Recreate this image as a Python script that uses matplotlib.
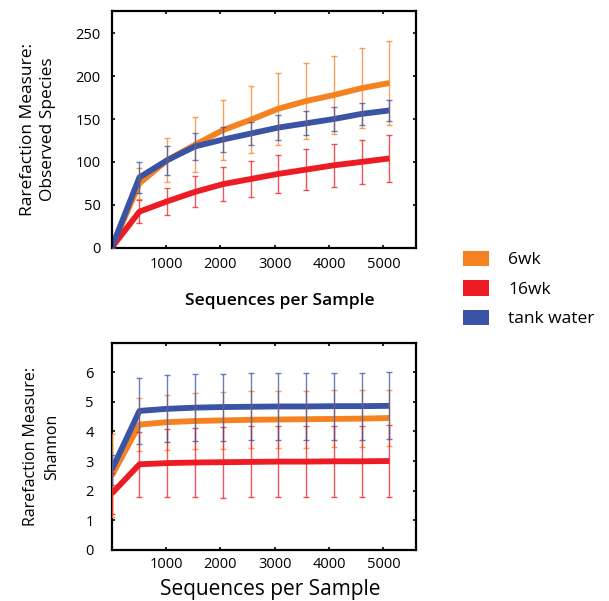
import matplotlib
matplotlib.use('Agg')
import matplotlib.pyplot as plt
from matplotlib.patches import Patch

plt.rcParams['font.family'] = ['Open Sans', 'DejaVu Sans']

# rarefaction depths
depth = [0, 511, 1022, 1533, 2044, 2555, 3066, 3577, 4088, 4599, 5110]

# observed species
obs_6wk = [0, 75, 102, 120, 137, 149, 162, 171, 178, 186, 192]
obs_6wk_err = [0, 18, 26, 32, 35, 39, 42, 44, 46, 47, 49]
obs_16wk = [0, 42, 54, 65, 74, 80, 86, 91, 96, 100, 104]
obs_16wk_err = [0, 13, 16, 18, 20, 21, 22, 24, 25, 26, 27]
obs_tank = [0, 82, 102, 118, 126, 133, 140, 145, 150, 156, 160]
obs_tank_err = [0, 18, 17, 16, 15, 13, 15, 14, 14, 13, 12]

# shannon
sh_6wk = [2.5, 4.23, 4.31, 4.35, 4.37, 4.39, 4.40, 4.41, 4.42, 4.43, 4.45]
sh_6wk_err = [1.4, 0.9, 0.93, 0.95, 0.95, 0.96, 0.96, 0.96, 0.96, 0.96, 0.96]
sh_16wk = [1.9, 2.89, 2.93, 2.95, 2.96, 2.97, 2.98, 2.98, 2.99, 2.99, 3.0]
sh_16wk_err = [0.7, 1.1, 1.15, 1.18, 1.2, 1.2, 1.2, 1.2, 1.2, 1.2, 1.2]
sh_tank = [2.7, 4.69, 4.76, 4.80, 4.82, 4.83, 4.84, 4.84, 4.85, 4.85, 4.86]
sh_tank_err = [0.5, 1.12, 1.13, 1.13, 1.13, 1.13, 1.13, 1.13, 1.13, 1.13, 1.13]

groups = ['6wk', '16wk', 'tank water']
colors = ['#F58220', '#ED1C24', '#3A53A4']

fig = plt.figure(figsize=(6.09, 6.01), dpi=100)
ax1 = fig.add_axes([0.1834, 0.588, 0.4997, 0.3937])
ax2 = fig.add_axes([0.1834, 0.0849, 0.4997, 0.3439])


def draw(ax, series):
    for (y, err), c in zip(series, colors):
        ax.plot(depth, y, color=c, lw=4.2, solid_capstyle='butt', zorder=2)
        ax.errorbar(depth, y, yerr=err, fmt='none', ecolor=c, elinewidth=1,
                    capsize=2, capthick=1, alpha=0.75, zorder=3)
    ax.set_xlim(0, 5600)
    ax.set_xticks([1000, 2000, 3000, 4000, 5000])
    for s in ax.spines.values():
        s.set_linewidth(1.6)
    ax.tick_params(direction='in', length=2, width=1.2, top=True, right=True,
                   labelsize=10.5, pad=8)


draw(ax1, [(obs_6wk, obs_6wk_err), (obs_16wk, obs_16wk_err), (obs_tank, obs_tank_err)])
ax1.set_ylim(0, 276)
ax1.set_yticks([0, 50, 100, 150, 200, 250])
ax1.tick_params(axis='x', pad=7)
ax1.set_xlabel('Sequences per Sample', fontsize=12.5, fontweight='semibold')
ax1.xaxis.set_label_coords(0.553, -0.19)
ax1.set_ylabel('Rarefaction Measure:\nObserved Species', fontsize=12.5,
               linespacing=1.3)
ax1.yaxis.set_label_coords(-0.184, 0.5)

draw(ax2, [(sh_6wk, sh_6wk_err), (sh_16wk, sh_16wk_err), (sh_tank, sh_tank_err)])
ax2.set_ylim(0, 6.97)
ax2.set_yticks([0, 1, 2, 3, 4, 5, 6])
ax2.tick_params(axis='x', pad=5)
ax2.tick_params(axis='y', pad=13)
ax2.set_xlabel('Sequences per Sample', fontsize=15)
ax2.xaxis.set_label_coords(0.52, -0.139)
ax2.set_ylabel('Rarefaction Measure:\nShannon', fontsize=11.5, linespacing=1.45)
ax2.yaxis.set_label_coords(-0.17, 0.5)

handles = [Patch(facecolor=c, edgecolor='none') for c in colors]
fig.legend(handles, groups, loc='center left', bbox_to_anchor=(0.76, 0.519),
           frameon=False, fontsize=12.5, handlelength=1.5, handleheight=1.0,
           handletextpad=1.1, labelspacing=0.68, borderpad=0, borderaxespad=0)

fig.savefig('out.png', dpi=100)
